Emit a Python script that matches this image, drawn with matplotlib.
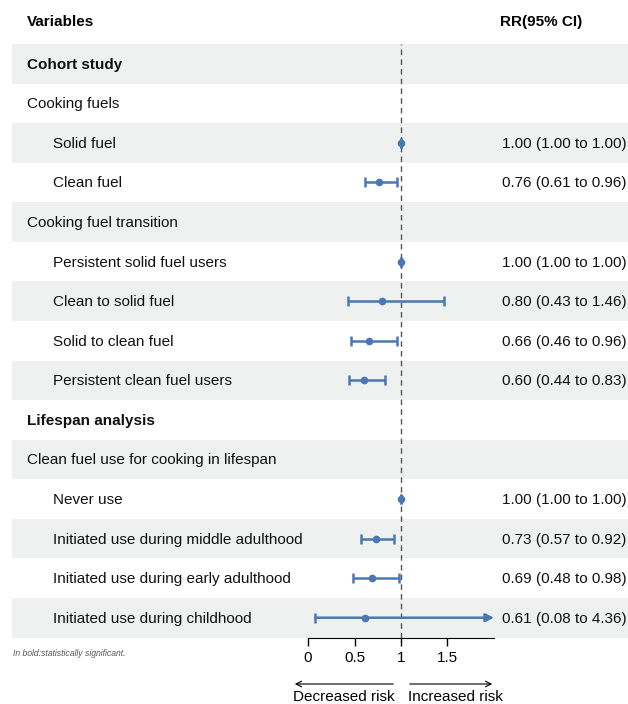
import numpy as np
import matplotlib.pyplot as plt

plt.rcParams['font.family'] = ['Liberation Sans', 'DejaVu Sans']

# ---- data ----
labels = ['Cohort study', 'Cooking fuels', 'Solid fuel', 'Clean fuel',
          'Cooking fuel transition', 'Persistent solid fuel users',
          'Clean to solid fuel', 'Solid to clean fuel',
          'Persistent clean fuel users', 'Lifespan analysis',
          'Clean fuel use for cooking in lifespan', 'Never use',
          'Initiated use during middle adulthood',
          'Initiated use during early adulthood',
          'Initiated use during childhood']
indent = [0, 0, 1, 1, 0, 1, 1, 1, 1, 0, 0, 1, 1, 1, 1]
bold = [1, 0, 0, 0, 0, 0, 0, 0, 0, 1, 0, 0, 0, 0, 0]
rr = [np.nan, np.nan, 1.00, 0.76, np.nan, 1.00, 0.80, 0.66, 0.60,
      np.nan, np.nan, 1.00, 0.73, 0.69, 0.61]
lo = [np.nan, np.nan, 1.00, 0.61, np.nan, 1.00, 0.43, 0.46, 0.44,
      np.nan, np.nan, 1.00, 0.57, 0.48, 0.08]
hi = [np.nan, np.nan, 1.00, 0.96, np.nan, 1.00, 1.46, 0.96, 0.83,
      np.nan, np.nan, 1.00, 0.92, 0.98, 4.36]
xticks = [0, 0.5, 1, 1.5]
xmax = 2.0

rr = np.array(rr); lo = np.array(lo); hi = np.array(hi)
n = len(labels)

W, H = 628, 704
fig = plt.figure(figsize=(W / 100, H / 100), dpi=100)

# background axes in pixel coords
bg = fig.add_axes([0, 0, 1, 1])
bg.set_xlim(0, W)
bg.set_ylim(H, 0)
bg.axis('off')

top, bot = 44.0, 637.5
rowh = (bot - top) / n
blue = '#4a78b4'
band = '#eef1f0'

bg.text(27, 22, 'Variables', fontsize=11, fontweight='bold', va='center')
bg.text(500, 22, 'RR(95% CI)', fontsize=11, fontweight='bold', va='center')

for i in range(n):
    yc = top + (i + 0.5) * rowh + 1
    if i % 2 == 0:
        bg.add_patch(plt.Rectangle((12, top + i * rowh), W - 12, rowh,
                                   color=band, lw=0, zorder=0))
    x0 = 53 if indent[i] else 27
    bg.text(x0, yc, labels[i], fontsize=11, va='center',
            fontweight='bold' if bold[i] else 'normal', color='#111111')
    if not np.isnan(rr[i]):
        bg.text(502, yc, f'{rr[i]:.2f} ({lo[i]:.2f} to {hi[i]:.2f})',
                fontsize=11, va='center', color='#111111')

bg.text(13, 653, 'In bold:statistically significant.', fontsize=6.2,
        style='italic', color='#555555', va='center')

# arrows under axis
bg.annotate('', xy=(292, 684), xytext=(396, 684),
            arrowprops=dict(arrowstyle='->', lw=0.8, color='black'))
bg.annotate('', xy=(495, 684), xytext=(407, 684),
            arrowprops=dict(arrowstyle='->', lw=0.8, color='black'))
bg.text(395, 697, 'Decreased risk', fontsize=11, ha='right', va='center')
bg.text(408, 697, 'Increased risk', fontsize=11, ha='left', va='center')

# forest axes
ax = fig.add_axes([308 / W, 1 - bot / H, (494 - 308) / W, (bot - top) / H])
ax.patch.set_alpha(0)
ax.set_xlim(0, xmax)
ax.set_ylim(n, 0)
for s in ['top', 'right', 'left']:
    ax.spines[s].set_visible(False)
ax.set_yticks([])
ax.set_xticks(xticks)
ax.set_xticklabels(['0', '0.5', '1', '1.5'])
ax.tick_params(axis='x', direction='out', length=6, width=1, labelsize=11, pad=4)

ax.axvline(1, color='#555555', lw=1, ls=(0, (4, 3)), zorder=1)

y = np.arange(n) + 0.5
for i in range(n):
    if np.isnan(rr[i]):
        continue
    if hi[i] <= xmax:
        ax.errorbar(rr[i], y[i], xerr=[[rr[i] - lo[i]], [hi[i] - rr[i]]],
                    fmt='o', color=blue, ms=4.5, lw=1.8, capsize=3.6,
                    capthick=1.8, zorder=3, clip_on=False)
    else:
        ax.annotate('', xy=(xmax, y[i]), xytext=(lo[i], y[i]),
                    arrowprops=dict(arrowstyle='-|>', lw=1.8, color=blue,
                                    shrinkA=0, shrinkB=0, mutation_scale=12),
                    zorder=3)
        ax.plot([lo[i]], [y[i]], marker='|', ms=7.2, mew=1.8, color=blue,
                zorder=3)
        ax.plot([rr[i]], [y[i]], 'o', ms=4.5, color=blue, zorder=3)

fig.savefig('out.png', dpi=100)
